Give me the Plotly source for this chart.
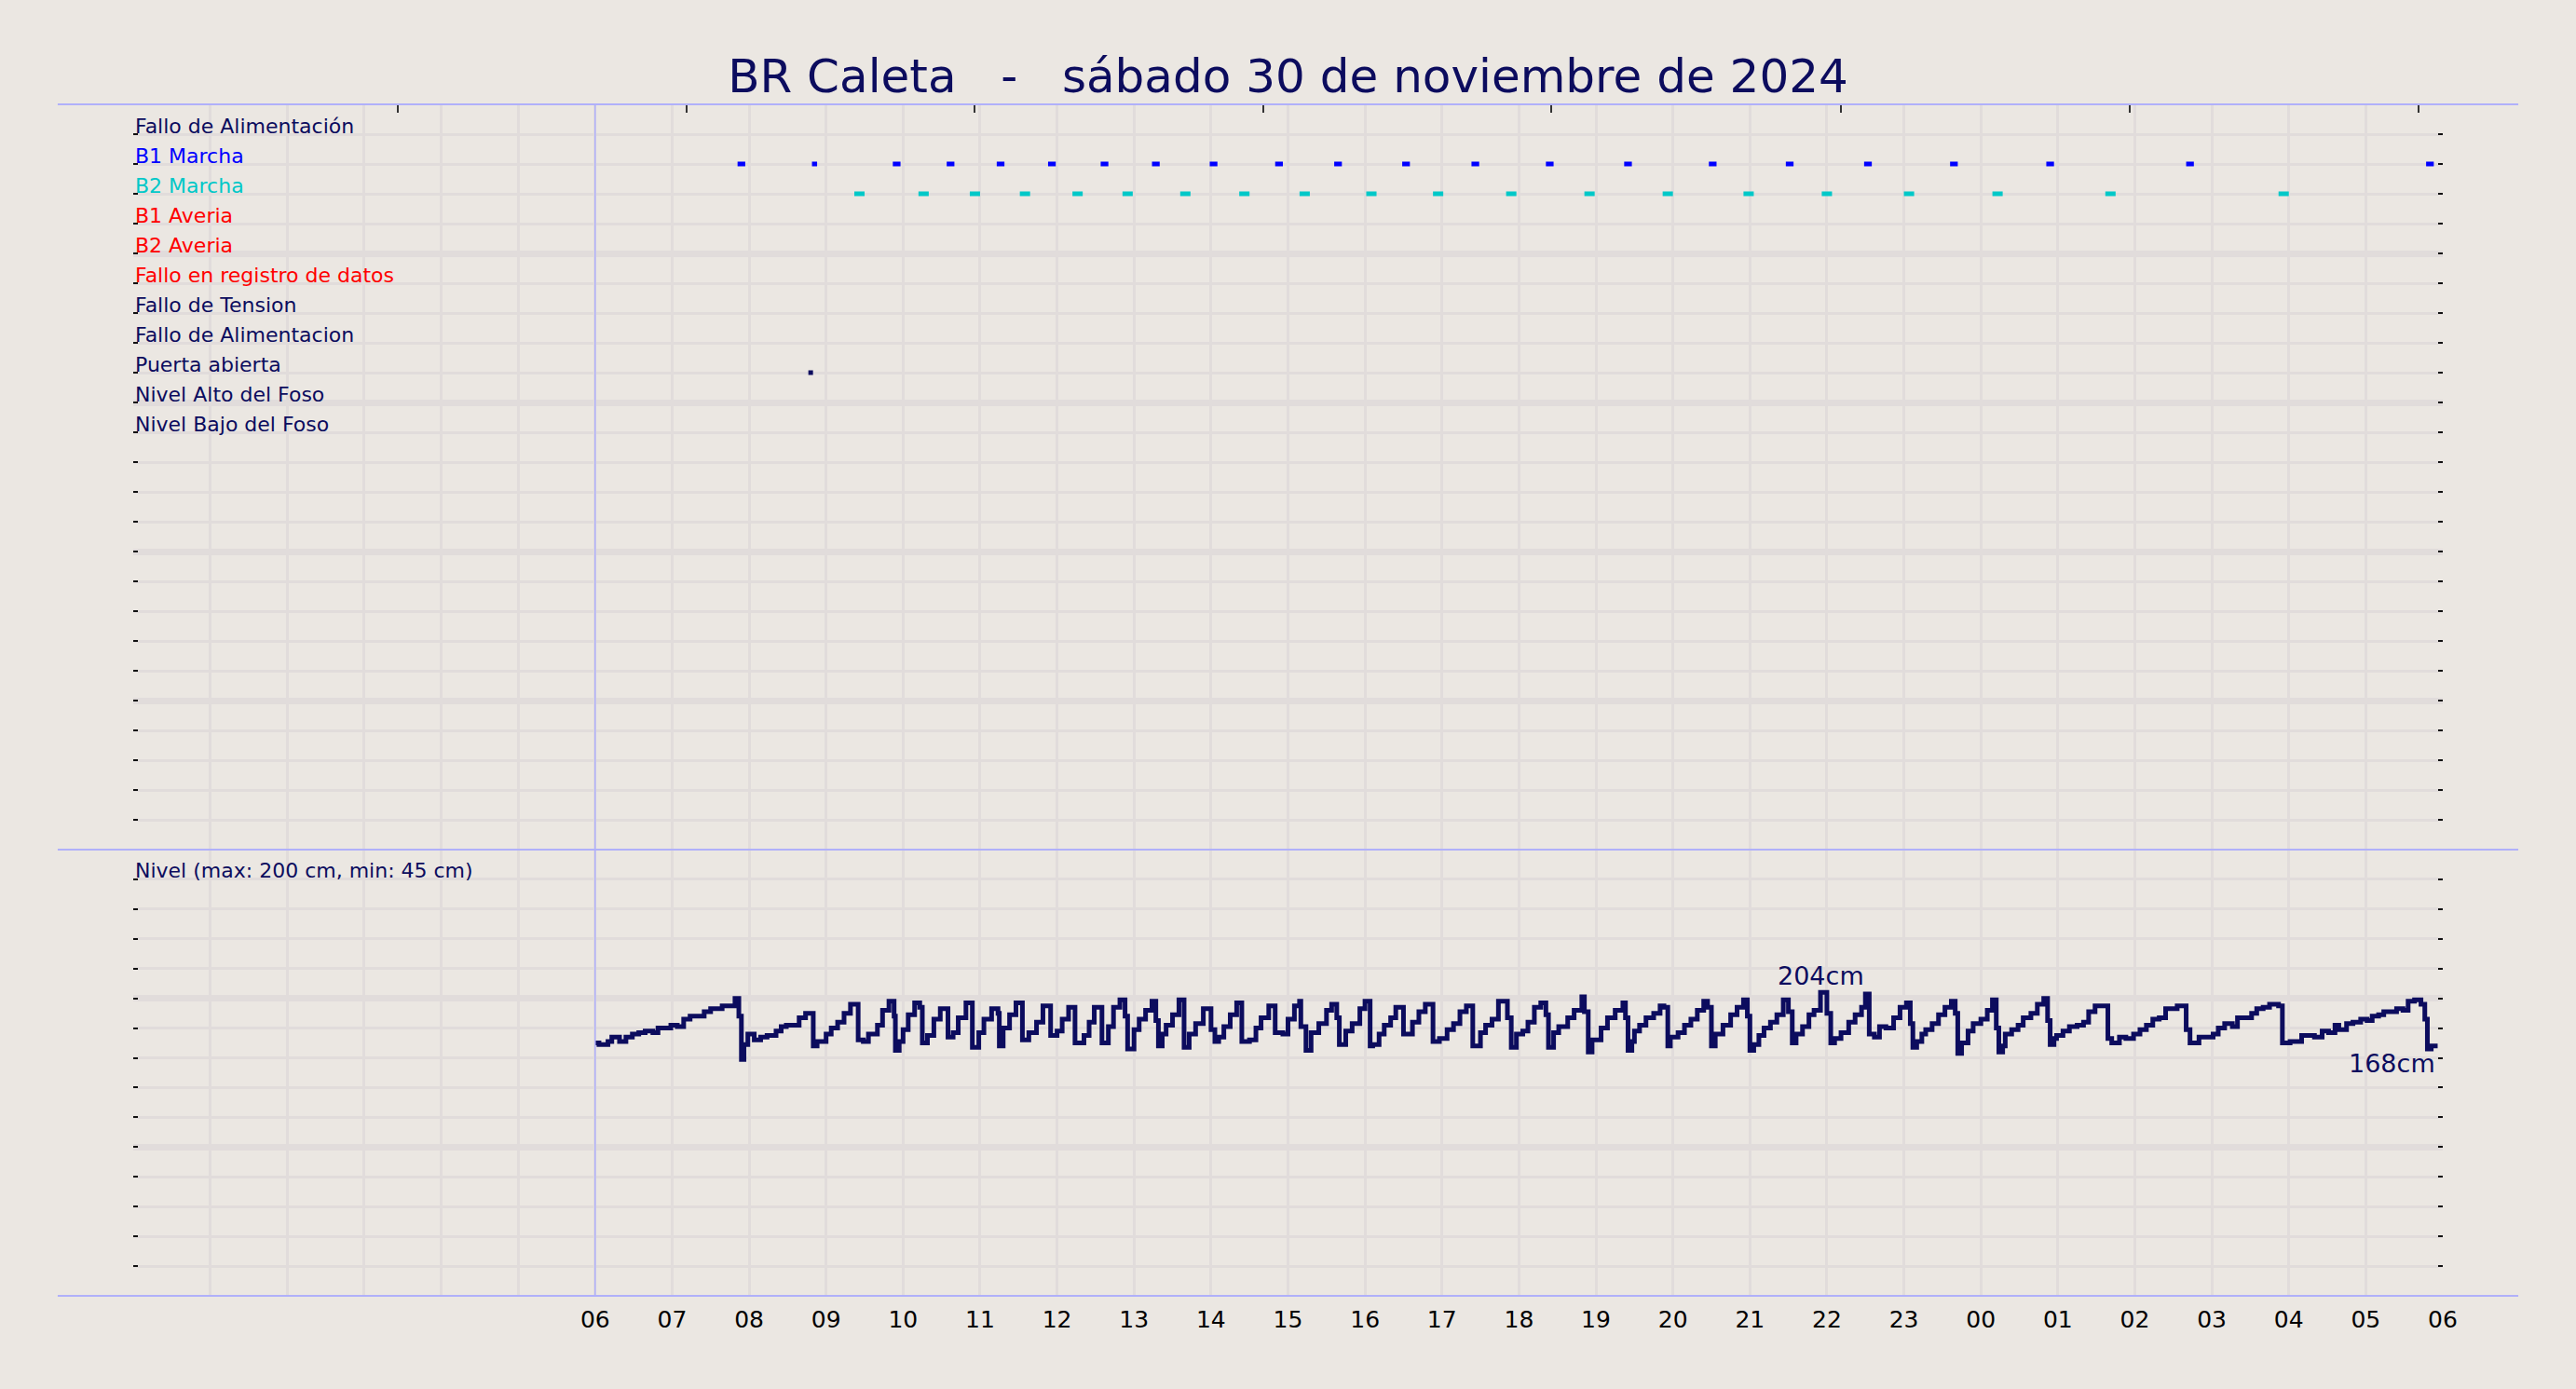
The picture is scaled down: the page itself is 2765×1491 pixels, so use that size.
import pandas as pd
import plotly.graph_objects as go

# ---- data ----
day_start = "2024-11-30 00:00"
data_start = "2024-11-30 06:00"
day_end = "2024-12-01 06:00"

row_labels = ["Fallo de Alimentación", "B1 Marcha", "B2 Marcha", "B1 Averia", "B2 Averia",
              "Fallo en registro de datos", "Fallo de Tension", "Fallo de Alimentacion",
              "Puerta abierta", "Nivel Alto del Foso", "Nivel Bajo del Foso"]
row_colors = ["#0c0c5e", "#0000ff", "#00c8c8", "#ff0000", "#ff0000", "#ff0000",
              "#0c0c5e", "#0c0c5e", "#0c0c5e", "#0c0c5e", "#0c0c5e"]

# pump run intervals, minutes after 06:00
b1_start = [111, 169, 232, 274, 313, 353, 394, 434, 479, 530, 576, 629, 683, 741, 802, 868,
            928, 989, 1056, 1131, 1240, 1427]
b1_end = [117, 173, 238, 280, 319, 359, 400, 440, 485, 536, 582, 635, 689, 747, 808, 874,
          934, 995, 1062, 1137, 1246, 1433]
b2_start = [202, 252, 292, 331, 372, 411, 456, 502, 549, 601, 653, 710, 771, 832, 895, 956,
            1020, 1089, 1177, 1312]
b2_end = [210, 260, 300, 339, 380, 419, 464, 510, 557, 609, 661, 718, 779, 840, 903, 964,
          1028, 1097, 1185, 1320]
puerta_min = [168]

# pit level, minutes after 06:00 and cm
level_min = [0, 3, 10, 13, 19, 24, 29, 34, 39, 45, 49, 59, 64, 69, 74, 85, 90, 99, 109, 112,
             114, 116, 119, 124, 129, 134, 141, 145, 149, 159, 164, 170, 173, 180, 184, 189,
             194, 199, 205, 209, 213, 220, 224, 229, 233, 234, 237, 240, 244, 249, 253, 255,
             259, 264, 269, 275, 279, 283, 289, 294, 299, 303, 309, 314, 315, 318, 323, 328,
             333, 338, 344, 349, 355, 360, 364, 369, 374, 381, 385, 389, 395, 400, 404, 409,
             413, 415, 420, 424, 429, 434, 437, 439, 442, 445, 450, 455, 459, 463, 468, 474,
             480, 483, 486, 490, 495, 500, 504, 510, 515, 519, 525, 530, 536, 540, 545, 549,
             550, 554, 558, 564, 570, 574, 578, 580, 585, 590, 596, 600, 604, 606, 611, 615,
             620, 624, 630, 637, 642, 647, 653, 658, 664, 669, 674, 679, 684, 690, 694, 699,
             704, 711, 714, 718, 723, 727, 732, 737, 741, 743, 747, 751, 758, 763, 769, 771,
             774, 777, 784, 789, 795, 801, 803, 805, 808, 810, 814, 819, 825, 830, 833, 836,
             838, 844, 849, 854, 859, 864, 867, 870, 873, 879, 885, 890, 895, 898, 900, 903,
             907, 911, 916, 921, 926, 930, 933, 936, 941, 946, 950, 955, 960, 963, 966, 971,
             977, 982, 987, 990, 993, 997, 1001, 1006, 1012, 1017, 1022, 1025, 1027, 1030,
             1034, 1037, 1042, 1047, 1052, 1057, 1060, 1062, 1065, 1070, 1074, 1080, 1085,
             1089, 1092, 1094, 1097, 1099, 1104, 1109, 1113, 1119, 1124, 1129, 1132, 1134,
             1137, 1139, 1144, 1149, 1155, 1160, 1164, 1169, 1179, 1182, 1188, 1193, 1199,
             1204, 1209, 1214, 1219, 1224, 1233, 1240, 1243, 1250, 1261, 1265, 1270, 1276,
             1280, 1291, 1295, 1300, 1305, 1312, 1315, 1321, 1330, 1340, 1346, 1351, 1356,
             1359, 1365, 1370, 1376, 1381, 1385, 1390, 1394, 1404, 1409, 1413, 1418, 1423,
             1426, 1428, 1431, 1436]
level_cm = [170, 169, 171, 174, 171, 174, 176, 177, 178, 177, 180, 182, 181, 186, 188, 191,
            193, 195, 200, 188, 159, 169, 176, 172, 174, 175, 178, 181, 182, 187, 190, 168,
            171, 176, 180, 184, 190, 196, 172, 171, 176, 182, 192, 198, 188, 165, 171, 179,
            189, 197, 194, 170, 175, 186, 193, 174, 177, 187, 197, 167, 177, 186, 193, 190,
            168, 180, 189, 197, 172, 177, 184, 195, 175, 178, 186, 194, 170, 175, 184, 194,
            170, 181, 194, 199, 188, 166, 179, 186, 192, 198, 185, 168, 176, 182, 189, 199,
            167, 176, 183, 193, 179, 171, 174, 181, 189, 197, 171, 172, 180, 187, 195, 177,
            176, 186, 195, 198, 181, 165, 177, 183, 192, 196, 187, 169, 178, 183, 193, 198,
            168, 169, 176, 182, 187, 194, 176, 184, 191, 196, 171, 173, 179, 183, 191, 195,
            168, 177, 182, 186, 198, 187, 167, 176, 178, 184, 194, 197, 189, 167, 177, 181,
            187, 192, 201, 191, 164, 172, 180, 187, 192, 197, 187, 165, 171, 178, 182, 187,
            190, 195, 194, 168, 174, 177, 182, 186, 192, 198, 194, 168, 176, 182, 189, 194,
            199, 188, 165, 169, 175, 180, 184, 189, 199, 191, 170, 176, 181, 189, 192, 204,
            190, 170, 173, 177, 184, 189, 194, 203, 176, 174, 181, 180, 187, 194, 197, 183,
            167, 171, 176, 179, 183, 189, 194, 198, 190, 163, 170, 178, 183, 186, 192, 199,
            180, 164, 168, 176, 179, 182, 187, 190, 196, 200, 185, 169, 173, 175, 178, 181,
            182, 184, 191, 195, 173, 170, 174, 173, 176, 179, 182, 186, 187, 193, 195, 179,
            170, 174, 176, 180, 183, 181, 187, 190, 193, 194, 196, 195, 170, 171, 175, 174,
            178, 177, 182, 179, 183, 184, 186, 185, 188, 189, 191, 193, 192, 198, 199, 196,
            186, 166, 168, 168]

hour_ticks = pd.date_range(data_start, day_end, freq="h")
hour_text = [t.strftime("%H") for t in hour_ticks]
top_ticks = ["2024-11-30 03:26", "2024-11-30 07:11", "2024-11-30 10:56", "2024-11-30 14:41",
             "2024-11-30 18:25", "2024-11-30 22:11", "2024-12-01 01:56", "2024-12-01 05:41"]

title_text = "BR Caleta\u00a0\u00a0\u00a0-\u00a0\u00a0\u00a0sábado 30 de noviembre de 2024"
nivel_text = "Nivel (max: 200 cm, min: 45 cm)"

# ---- styling ----
BG = "#ebe7e2"
GRID = "#e1dcdb"
NAVY = "#0c0c5e"
SPINE = "#b0b0fa"
FONT = "DejaVu Sans"

t0 = pd.Timestamp(data_start)


def at(minutes):
    return [t0 + pd.Timedelta(minutes=m) for m in minutes]


def segments(starts, ends):
    xs = []
    for a, b in zip(at(starts), at(ends)):
        xs += [a, b, None]
    return xs


row_y = {lab: 24 - i for i, lab in enumerate(row_labels)}

fig = go.Figure()

b1x = segments(b1_start, b1_end)
fig.add_trace(go.Scatter(x=b1x, y=[row_y["B1 Marcha"] if v is not None else None for v in b1x],
                         mode="lines", line=dict(color="#0000ff", width=5),
                         xaxis="x", yaxis="y", hoverinfo="skip"))
b2x = segments(b2_start, b2_end)
fig.add_trace(go.Scatter(x=b2x, y=[row_y["B2 Marcha"] if v is not None else None for v in b2x],
                         mode="lines", line=dict(color="#00c8c8", width=5),
                         xaxis="x", yaxis="y", hoverinfo="skip"))
fig.add_trace(go.Scatter(x=at(puerta_min), y=[row_y["Puerta abierta"]] * len(puerta_min),
                         mode="markers", marker=dict(color=NAVY, size=5, symbol="square"),
                         xaxis="x", yaxis="y"))

# helper trace so the top tick axis gets drawn
fig.add_trace(go.Scatter(x=top_ticks, y=[None] * len(top_ticks), mode="markers",
                         xaxis="x2", yaxis="y", showlegend=False))

level_t = at(level_min)
fig.add_trace(go.Scatter(x=level_t, y=level_cm, mode="lines",
                         line=dict(color=NAVY, width=5, shape="hv"),
                         xaxis="x", yaxis="y2"))

# labels in top panel
for lab, col in zip(row_labels, row_colors):
    fig.add_annotation(x=0, xref="paper", y=row_y[lab], yref="y", text=lab,
                       xanchor="left", yanchor="middle", yshift=9, showarrow=False,
                       font=dict(family=FONT, size=22, color=col))

fig.add_annotation(x=0, xref="paper", y=280, yref="y2", text=nivel_text,
                   xanchor="left", yanchor="middle", yshift=9, showarrow=False,
                   font=dict(family=FONT, size=22, color=NAVY))

imax = max(range(len(level_cm)), key=lambda i: level_cm[i])
fig.add_annotation(x=level_t[imax], y=level_cm[imax], xref="x", yref="y2",
                   text=f"{level_cm[imax]}cm", showarrow=False, xanchor="center",
                   yanchor="bottom", font=dict(family=FONT, size=27, color=NAVY))
fig.add_annotation(x=level_t[-1], y=level_cm[-1], xref="x", yref="y2",
                   text=f"{level_cm[-1]}cm", showarrow=False, xanchor="right",
                   yanchor="top", yshift=-1, font=dict(family=FONT, size=27, color=NAVY))

split = 479 / 1279

tickstyle = dict(ticks="inside", ticklen=5, tickwidth=2, tickcolor="#111111")

fig.update_layout(
    width=2765, height=1491,
    paper_bgcolor=BG, plot_bgcolor=BG,
    margin=dict(l=143, r=143, t=112, b=100, pad=0),
    showlegend=False,
    title=dict(text=title_text, x=0.5, xanchor="center", y=1 - 81 / 1491, yanchor="middle",
               yref="container", font=dict(family=FONT, size=50, color=NAVY)),
    xaxis=dict(domain=[0, 1], anchor="y2", type="date", range=[day_start, day_end],
               tickvals=list(hour_ticks), ticktext=hour_text, ticks="",
               ticklabelstandoff=8,
               tickfont=dict(family=FONT, size=25, color="#000000"),
               showgrid=True, gridcolor=GRID, gridwidth=3, zeroline=False, showline=False,
               minor=dict(dtick=3600000, tick0=day_start, showgrid=True, gridcolor=GRID,
                          gridwidth=3)),
    xaxis2=dict(overlaying="x", anchor="y", side="top", type="date",
                range=[day_start, day_end], tickvals=top_ticks, ticks="inside", ticklen=9,
                tickwidth=2, tickcolor="#333333", showticklabels=False, showgrid=False,
                zeroline=False, showline=False),
    yaxis=dict(domain=[split, 1], anchor="x", range=[0, 25], tick0=0, dtick=5,
               showgrid=True, gridcolor=GRID, gridwidth=7, mirror="ticks",
               showticklabels=False, zeroline=False, showline=False, **tickstyle,
               minor=dict(dtick=1, tick0=0, showgrid=True, gridcolor=GRID, gridwidth=3,
                          **tickstyle)),
    yaxis2=dict(domain=[0, split], anchor="x", range=[0, 300], tick0=0, dtick=100,
                showgrid=True, gridcolor=GRID, gridwidth=7, mirror="ticks",
                showticklabels=False, zeroline=False, showline=False, **tickstyle,
                minor=dict(dtick=20, tick0=0, showgrid=True, gridcolor=GRID, gridwidth=3,
                           **tickstyle)),
)

# frame lines
for yy in [0, split, 1]:
    fig.add_shape(type="line", xref="paper", yref="paper", x0=-0.0327, x1=1.0327,
                  y0=yy, y1=yy, line=dict(color=SPINE, width=2))
fig.add_shape(type="line", xref="x", yref="paper", x0=data_start, x1=data_start, y0=0, y1=1,
              line=dict(color=SPINE, width=1.5))

fig.write_html("out.html", config={"displayModeBar": False},
               post_script="document.body.style.margin='0';"
                           "document.body.style.background='" + BG + "';")
